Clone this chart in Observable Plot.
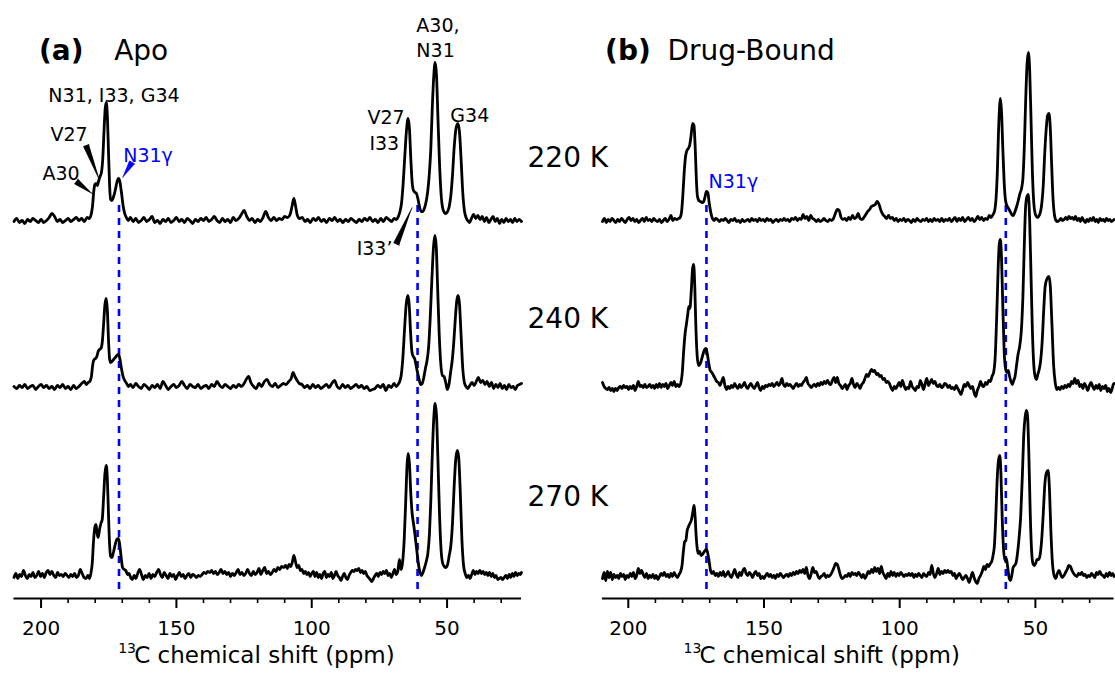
<!DOCTYPE html>
<html><head><meta charset="utf-8">
<script src="https://cdn.jsdelivr.net/npm/d3@7"></script>
<script src="https://cdn.jsdelivr.net/npm/@observablehq/plot@0.6"></script>
<style>
body{margin:0;background:#fff;}
#wrap{position:relative;width:1115px;height:673px;overflow:hidden;background:#fff;}
#wrap svg{position:absolute;top:0;}
</style></head><body><div id="wrap"></div>
<script>
// ---------- data: [ppm, intensity] ----------
const temperatures = ["220 K", "240 K", "270 K"];
const majorTicks = [200, 150, 100, 50];
const minorTicks = [190, 180, 170, 160, 140, 130, 120, 110, 90, 80, 70, 60, 40, 30];
const refShifts = [171.2, 60.9];
const axisTitleSup = "13";
const axisTitleMain = "C chemical shift (ppm)";

const apo220 = [[210,-1],[209,2],[208,-2],[207,0],[206,-3],[205,1],[204,-1],[203,2],[202,0],[201,-2],[200,1],[199,-2],[198,0],[197,3],[196,7],[195,4],[194,-1],[193,1],[192,-2],[191,0],[190,2],[189,-1],[188,1],[187,3],[186,0],[185,2],[184,-1],[183,3],[182.2,2],[181.5,6],[181.0,14],[180.5,30],[180.1,36],[179.7,37],[179.2,35],[178.7,40],[178.2,44],[177.7,48],[177.2,62],[176.7,92],[176.3,112],[175.9,118],[175.5,104],[175.1,70],[174.7,36],[174.3,21],[173.8,20],[173.2,24],[172.6,30],[172.0,38],[171.4,42],[170.9,39],[170.3,28],[169.7,15],[169.1,7],[168.5,3],[167.8,0],[167,3],[166,-1],[165,2],[164,-2],[163,0],[162,3],[161,-1],[160,1],[159,4],[158,-2],[157,0],[156,-3],[155,1],[154,-1],[153,2],[152,-2],[151,0],[150,3],[149,-1],[148,1],[147,-2],[146,2],[145,0],[144,-3],[143,1],[142,-1],[141,2],[140,0],[139,3],[138,-1],[137,1],[136,4],[135,0],[134,-2],[133,2],[132,-1],[131,1],[130,-2],[129,3],[128,0],[127,2],[126,6],[125,10],[124,4],[123,0],[122,2],[121,-2],[120,1],[119,-1],[118,3],[117,9],[116,3],[115,0],[114,3],[113,0],[112,2],[111,1],[110,4],[109,3],[108,6],[107.3,14],[106.6,22],[106,15],[105.3,5],[104.5,2],[103.5,3],[102.5,-1],[101.5,1],[100.5,-2],[99.5,2],[98.5,0],[97.5,3],[96.5,-1],[95.5,1],[94.5,-2],[93.5,2],[92.5,0],[91.5,3],[90.5,-1],[89.5,1],[88.5,-2],[87.5,1],[86.5,-1],[85.5,2],[84.5,0],[83.5,-2],[82.5,1],[81.5,-1],[80.5,2],[79.5,0],[78.5,3],[77.5,-1],[76.5,1],[75.5,-2],[74.5,2],[73.5,-1],[72.5,3],[71.5,1],[70.5,-1],[69.5,2],[68.7,1],[68.0,4],[67.4,9],[66.8,18],[66.2,38],[65.6,65],[65.0,90],[64.4,102],[63.9,92],[63.4,62],[62.9,38],[62.4,30],[61.8,28],[61.3,27],[60.8,22],[60.2,14],[59.6,9],[59.0,9],[58.4,12],[57.8,18],[57.2,28],[56.6,45],[56.0,72],[55.5,110],[54.9,145],[54.4,158],[53.9,145],[53.4,105],[52.8,58],[52.2,26],[51.6,12],[51.0,8],[50.4,7],[49.8,9],[49.2,14],[48.6,25],[48.0,45],[47.4,72],[46.7,92],[46.0,97],[45.4,88],[44.8,60],[44.2,28],[43.6,10],[43.0,3],[42.4,0],[41.7,-2],[41,2],[40.2,6],[39.4,2],[38.6,5],[37.8,1],[37,4],[36.2,-1],[35.4,3],[34.6,-2],[33.8,1],[33,4],[32.2,-1],[31.4,2],[30.6,-3],[29.8,1],[29,-2],[28.2,2],[27.4,-1],[26.6,1],[25.8,-2],[25,2],[24.2,-1],[23.4,1],[22.5,-1]];

const apo240 = [[210,0],[209,-2],[208,1],[207,-1],[206,2],[205,-2],[204,0],[203,1],[202,-3],[201,0],[200,2],[199,-1],[198,1],[197,-2],[196,0],[195,-3],[194,1],[193,-1],[192,2],[191,-2],[190,0],[189,-3],[188,1],[187,-2],[186,0],[185,3],[184,5],[183.3,2],[182.6,4],[182.0,5],[181.4,10],[180.9,22],[180.4,27],[179.9,28],[179.4,30],[178.9,35],[178.4,37],[177.9,38],[177.4,44],[176.9,62],[176.4,82],[175.9,88],[175.5,76],[175.1,48],[174.7,28],[174.3,24],[173.8,25],[173.2,27],[172.6,29],[172.0,31],[171.4,32],[170.9,28],[170.3,18],[169.7,10],[169.1,6],[168.4,3],[167.7,0],[167,2],[166,-1],[165,3],[164,0],[163,-2],[162,2],[161,0],[160,-3],[159,1],[158,-1],[157,2],[156,-2],[155,5],[154,1],[153,-3],[152,0],[151,2],[150,-1],[149,1],[148,5],[147,1],[146,-2],[145,2],[144,0],[143,-1],[142,2],[141,-2],[140,0],[139,1],[138,-2],[137,2],[136,0],[135,5],[134,1],[133,-1],[132,2],[131,0],[130,-2],[129,1],[128,-1],[127,2],[126,0],[125,3],[124,8],[123.3,10],[122.5,4],[121.5,0],[120.5,-2],[119.5,3],[118.5,0],[117.5,5],[116.5,7],[115.5,2],[114.5,0],[113.5,3],[112.5,-1],[111.5,1],[110.5,3],[109.5,2],[108.5,5],[107.6,8],[106.9,14],[106.2,10],[105.4,6],[104.6,3],[103.6,2],[102.6,-1],[101.6,1],[100.6,-2],[99.6,2],[98.6,-1],[97.6,1],[96.6,-2],[95.6,0],[94.6,2],[93.6,-1],[92.6,3],[91.6,6],[90.6,0],[89.6,-2],[88.6,2],[87.6,-1],[86.6,1],[85.6,-2],[84.6,0],[83.6,2],[82.6,-1],[81.6,1],[80.6,-2],[79.6,0],[78.6,-4],[77.6,-3],[76.6,-2],[75.6,1],[74.6,-1],[73.6,2],[72.6,-4],[71.6,1],[70.6,-1],[69.6,3],[68.8,0],[68.1,2],[67.5,5],[66.9,12],[66.3,30],[65.7,58],[65.1,82],[64.5,91],[64.0,82],[63.5,55],[63.0,35],[62.5,30],[62.0,28],[61.5,22],[61.0,15],[60.4,8],[59.8,2],[59.2,3],[58.6,9],[58.0,18],[57.4,26],[56.8,40],[56.2,70],[55.6,108],[55.0,140],[54.5,151],[54.0,140],[53.5,100],[52.9,52],[52.3,22],[51.7,11],[51.1,10],[50.5,4],[49.9,-3],[49.3,2],[48.7,14],[48.1,26],[47.5,45],[46.9,70],[46.4,86],[45.9,91],[45.4,82],[44.8,50],[44.2,18],[43.6,4],[43.0,0],[42.3,-2],[41.6,1],[40.8,4],[40,1],[39.2,5],[38.4,9],[37.6,4],[36.8,6],[36,2],[35.2,5],[34.4,0],[33.6,4],[32.8,-2],[32,2],[31.2,-1],[30.4,3],[29.6,-2],[28.8,1],[28,-3],[27.2,2],[26.4,-1],[25.6,0],[24.8,-3],[24,1],[23.2,2],[22.5,3]];

const apo270 = [[210,-2],[209.3,2],[208.6,-3],[207.9,1],[207.2,-1],[206.5,5],[205.8,0],[205.1,-3],[204.4,1],[203.7,-1],[203,3],[202.3,-2],[201.6,0],[200.9,4],[200.2,-1],[199.5,2],[198.8,-2],[198.1,3],[197.4,5],[196.7,1],[196,4],[195.3,0],[194.6,-2],[193.9,3],[193.2,0],[192.5,1],[191.8,-1],[191.1,2],[190.4,0],[189.7,-2],[189,1],[188.3,-1],[187.6,2],[186.9,-2],[186.2,0],[185.5,6],[184.8,2],[184.1,-2],[183.4,-3],[182.7,0],[182.1,-3],[181.6,2],[181.1,12],[180.6,35],[180.1,49],[179.7,51],[179.3,42],[178.9,38],[178.4,46],[177.9,52],[177.4,56],[176.9,78],[176.4,102],[175.9,110],[175.5,96],[175.1,62],[174.7,32],[174.3,19],[173.8,18],[173.2,24],[172.6,31],[172.0,36],[171.4,37],[170.9,30],[170.4,18],[169.9,8],[169.3,6],[168.7,5],[168.1,1],[167.5,2],[166.9,-2],[166.3,-4],[165.6,0],[165,-3],[164.3,2],[163.6,6],[162.9,1],[162.2,-4],[161.5,0],[160.8,-2],[160.1,2],[159.4,-3],[158.7,1],[158,-1],[157.3,3],[156.6,6],[155.9,1],[155.2,-2],[154.5,3],[153.8,0],[153.1,-3],[152.4,2],[151.7,-1],[151,1],[150.3,-4],[149.6,0],[148.9,3],[148.2,-1],[147.5,1],[146.8,-3],[146.1,0],[145.4,2],[144.7,-2],[144,1],[143.3,0],[142.6,-2],[141.9,0],[141.2,-1],[140.5,1],[139.8,3],[139.1,2],[138.4,4],[137.7,3],[137,5],[136.3,2],[135.6,4],[134.9,1],[134.2,3],[133.5,6],[132.8,2],[132.1,4],[131.4,1],[130.7,3],[130,-1],[129.3,2],[128.6,0],[127.9,3],[127.2,6],[126.5,1],[125.8,3],[125.1,0],[124.4,2],[123.7,6],[123,2],[122.3,0],[121.6,4],[120.9,1],[120.2,3],[119.5,7],[118.8,1],[118.1,5],[117.4,8],[116.7,2],[116,4],[115.3,1],[114.6,3],[113.9,6],[113.2,4],[112.5,8],[111.8,6],[111.1,9],[110.4,8],[109.7,10],[109,7],[108.4,11],[107.8,9],[107.2,13],[106.6,20],[106,14],[105.4,8],[104.8,10],[104.2,5],[103.6,6],[103,2],[102.4,4],[101.8,1],[101.2,3],[100.6,-1],[100,2],[99.4,4],[98.8,-1],[98.2,3],[97.6,-2],[97,1],[96.4,-3],[95.8,2],[95.2,4],[94.6,-2],[94,1],[93.4,-1],[92.8,3],[92.2,-3],[91.6,0],[91,4],[90.4,0],[89.8,-2],[89.2,-5],[88.6,-1],[88,2],[87.4,-2],[86.8,-4],[86.2,0],[85.6,3],[85,5],[84.4,4],[83.8,6],[83.2,5],[82.6,7],[82,3],[81.4,5],[80.8,2],[80.2,4],[79.6,0],[79,-2],[78.4,-4],[77.8,-6],[77.2,-3],[76.6,0],[76,2],[75.4,-1],[74.8,3],[74.2,1],[73.6,4],[73,2],[72.4,5],[71.8,0],[71.2,2],[70.6,-2],[70,2],[69.4,6],[68.8,1],[68.2,4],[67.6,16],[67.0,6],[66.4,14],[65.8,38],[65.2,80],[64.8,110],[64.4,122],[63.9,112],[63.4,82],[62.9,62],[62.4,52],[61.9,42],[61.3,28],[60.7,14],[60.1,4],[59.5,0],[58.9,3],[58.3,8],[57.7,14],[57.1,22],[56.5,42],[56.0,75],[55.5,118],[54.9,158],[54.4,172],[53.9,160],[53.4,118],[52.8,62],[52.2,25],[51.6,12],[51.0,9],[50.4,8],[49.8,11],[49.2,20],[48.6,30],[48.0,52],[47.4,88],[46.8,116],[46.2,125],[45.7,118],[45.1,82],[44.5,35],[43.9,10],[43.3,2],[42.7,-2],[42.1,0],[41.5,-3],[40.9,1],[40.3,5],[39.7,1],[39.1,4],[38.5,2],[37.9,5],[37.3,2],[36.7,4],[36.1,1],[35.5,3],[34.9,0],[34.3,3],[33.7,-1],[33.1,2],[32.5,-2],[31.9,0],[31.3,-4],[30.7,-3],[30.1,-2],[29.5,-4],[28.9,-2],[28.3,0],[27.7,-3],[27.1,1],[26.5,-2],[25.9,2],[25.3,-1],[24.7,3],[24.1,0],[23.5,2],[22.9,1],[22.5,3]];

const drug220 = [[209.5,-1],[208.8,2],[208.1,-2],[207.4,1],[206.7,-1],[206,2],[205.3,0],[204.6,-2],[203.9,1],[203.2,-1],[202.5,2],[201.8,0],[201.1,-2],[200.4,1],[199.7,3],[199,0],[198.3,2],[197.6,-1],[196.9,1],[196.2,-2],[195.5,0],[194.8,2],[194.1,-1],[193.4,3],[192.7,0],[192,1],[191.3,-1],[190.6,2],[189.9,0],[189.2,-1],[188.5,1],[187.8,-2],[187.1,0],[186.4,2],[185.7,-1],[185,1],[184.3,5],[183.6,0],[182.9,2],[182.2,1],[181.5,2],[180.9,3],[180.4,8],[179.9,25],[179.4,48],[178.9,64],[178.4,70],[177.9,72],[177.4,75],[176.9,84],[176.3,97],[175.8,95],[175.3,70],[174.9,40],[174.5,24],[174.0,20],[173.4,19],[172.8,18],[172.2,19],[171.7,24],[171.2,29],[170.7,28],[170.2,18],[169.6,8],[169.0,2],[168.4,0],[167.8,2],[167.1,1],[166.4,-1],[165.7,1],[165,0],[164.3,2],[163.6,0],[162.9,-2],[162.2,1],[161.5,0],[160.8,2],[160.1,-1],[159.4,0],[158.7,-2],[158,1],[157.3,-1],[156.6,0],[155.9,1],[155.2,-1],[154.5,2],[153.8,0],[153.1,1],[152.4,-1],[151.7,2],[151,0],[150.3,1],[149.6,-1],[148.9,2],[148.2,0],[147.5,1],[146.8,-2],[146.1,0],[145.4,1],[144.7,-1],[144,1],[143.3,0],[142.6,2],[141.9,0],[141.2,1],[140.5,-1],[139.8,2],[139.1,1],[138.4,3],[137.7,0],[137,2],[136.3,1],[135.6,6],[134.9,2],[134.2,4],[133.5,0],[132.8,5],[132.1,2],[131.4,1],[130.7,-1],[130,1],[129.3,-1],[128.6,0],[127.9,2],[127.2,0],[126.5,-1],[125.8,1],[125.1,0],[124.4,2],[123.7,7],[123,11],[122.3,10],[121.6,3],[120.9,1],[120.2,2],[119.5,0],[118.8,3],[118.1,1],[117.4,5],[116.7,2],[116,3],[115.3,7],[114.6,2],[113.9,1],[113.2,3],[112.5,6],[111.8,9],[111.1,11],[110.4,14],[109.7,15],[109,16],[108.3,19],[107.6,16],[106.9,10],[106.2,6],[105.5,4],[104.8,2],[104.1,5],[103.4,2],[102.7,3],[102,0],[101.3,2],[100.6,-1],[99.9,1],[99.2,0],[98.5,2],[97.8,-1],[97.1,1],[96.4,0],[95.7,-2],[95,1],[94.3,-1],[93.6,2],[92.9,0],[92.2,-1],[91.5,1],[90.8,0],[90.1,2],[89.4,-1],[88.7,1],[88,-1],[87.3,2],[86.6,0],[85.9,1],[85.2,-1],[84.5,2],[83.8,-1],[83.1,1],[82.4,0],[81.7,2],[81,-1],[80.3,1],[79.6,3],[78.9,-1],[78.2,2],[77.5,0],[76.8,3],[76.1,-1],[75.4,1],[74.7,3],[74,0],[73.3,2],[72.6,-1],[71.9,1],[71.2,4],[70.5,1],[69.8,3],[69.1,0],[68.4,2],[67.7,1],[67,5],[66.3,3],[65.6,6],[65.0,10],[64.5,22],[64.0,50],[63.6,88],[63.2,114],[62.9,122],[62.5,110],[62.0,72],[61.5,38],[61.0,20],[60.5,15],[59.9,12],[59.3,9],[58.7,6],[58.1,5],[57.5,9],[56.9,14],[56.3,20],[55.7,27],[55.1,32],[54.6,42],[54.1,72],[53.6,118],[53.1,155],[52.6,168],[52.1,150],[51.6,100],[51.1,48],[50.6,18],[50.1,7],[49.6,4],[49.1,3],[48.6,5],[48.1,9],[47.6,18],[47.1,35],[46.6,65],[46.0,92],[45.5,105],[45.0,107],[44.5,92],[44.0,55],[43.5,22],[43.0,6],[42.4,0],[41.8,-1],[41.2,0],[40.6,2],[40,0],[39.4,1],[38.8,3],[38.2,1],[37.6,4],[37,2],[36.4,3],[35.8,1],[35.2,4],[34.6,0],[34,2],[33.4,-1],[32.8,3],[32.2,0],[31.6,-2],[31,1],[30.4,-1],[29.8,2],[29.2,0],[28.6,3],[28,-1],[27.4,1],[26.8,-2],[26.2,2],[25.6,0],[25,1],[24.4,-1],[23.8,2],[23.2,0],[22.6,1],[22,-1],[21,1]];

const drug240 = [[209.5,4],[208.9,0],[208.3,-2],[207.7,-3],[207.1,-1],[206.5,-4],[205.9,-2],[205.3,-5],[204.7,-2],[204.1,-4],[203.5,-1],[202.9,0],[202.3,-2],[201.7,1],[201.1,-1],[200.5,0],[199.9,-3],[199.3,0],[198.7,-2],[198.1,1],[197.5,-4],[196.9,0],[196.3,5],[195.7,0],[195.1,1],[194.5,-1],[193.9,2],[193.3,-1],[192.7,0],[192.1,2],[191.5,-1],[190.9,1],[190.3,-2],[189.7,2],[189.1,-1],[188.5,3],[187.9,-1],[187.3,2],[186.7,0],[186.1,3],[185.5,-2],[184.9,1],[184.3,4],[183.7,1],[183.1,5],[182.5,0],[181.9,2],[181.3,0],[180.6,4],[180.1,14],[179.6,35],[179.1,52],[178.6,62],[178.1,72],[177.7,80],[177.3,78],[176.8,95],[176.3,118],[175.9,122],[175.5,100],[175.1,60],[174.6,30],[174.1,21],[173.6,22],[173.0,27],[172.4,33],[171.9,37],[171.4,38],[170.9,33],[170.4,24],[169.8,16],[169.2,14],[168.6,11],[168.0,8],[167.4,5],[166.8,4],[166.2,1],[165.6,5],[165,9],[164.4,1],[163.8,-3],[163.2,0],[162.6,-2],[162,1],[161.4,-1],[160.8,3],[160.2,0],[159.6,-2],[159,2],[158.4,-1],[157.8,1],[157.2,4],[156.6,0],[156,-2],[155.4,1],[154.8,3],[154.2,0],[153.6,-2],[153,1],[152.4,4],[151.8,-1],[151.2,-4],[150.6,0],[150,-2],[149.4,1],[148.8,0],[148.2,2],[147.6,1],[147,3],[146.4,0],[145.8,2],[145.2,4],[144.6,1],[144,3],[143.4,8],[142.8,2],[142.2,0],[141.6,3],[141,1],[140.4,2],[139.8,0],[139.2,-2],[138.6,1],[138,3],[137.4,0],[136.8,2],[136.2,1],[135.6,4],[135,6],[134.4,9],[133.8,3],[133.2,1],[132.6,-1],[132,1],[131.4,2],[130.8,0],[130.2,3],[129.6,1],[129,4],[128.4,2],[127.8,5],[127.2,3],[126.6,6],[126,3],[125.4,2],[124.8,6],[124.2,9],[123.6,4],[123,9],[122.4,3],[121.8,1],[121.2,-2],[120.6,0],[120,2],[119.4,-3],[118.8,1],[118.2,3],[117.6,8],[117,2],[116.4,-1],[115.8,3],[115.2,1],[114.6,-2],[114,2],[113.4,4],[112.8,8],[112.2,12],[111.6,10],[111,14],[110.4,17],[109.8,15],[109.2,16],[108.6,12],[108,13],[107.4,10],[106.8,11],[106.2,7],[105.6,8],[105,4],[104.4,5],[103.8,3],[103.2,-1],[102.6,-4],[102,0],[101.4,-2],[100.8,1],[100.2,4],[99.6,0],[99,6],[98.4,1],[97.8,-3],[97.2,-1],[96.6,-2],[96,5],[95.4,0],[94.8,-2],[94.2,-4],[93.6,0],[93,-1],[92.4,6],[91.8,2],[91.2,-3],[90.6,3],[90,8],[89.4,1],[88.8,4],[88.2,7],[87.6,3],[87,5],[86.4,1],[85.8,0],[85.2,2],[84.6,-1],[84,0],[83.4,3],[82.8,2],[82.2,-1],[81.6,1],[81,-2],[80.4,-1],[79.8,-3],[79.2,1],[78.6,-2],[78,-5],[77.4,-8],[76.8,-3],[76.2,2],[75.6,0],[75,4],[74.4,1],[73.8,-2],[73.2,0],[72.6,-6],[72,-10],[71.4,-4],[70.8,0],[70.2,5],[69.6,1],[69,0],[68.4,4],[67.8,2],[67.2,6],[66.6,5],[66.0,10],[65.4,14],[64.8,30],[64.2,75],[63.7,120],[63.3,143],[62.9,147],[62.5,130],[62.0,80],[61.5,35],[61.0,18],[60.5,14],[60.0,16],[59.5,10],[59.0,5],[58.5,2],[58.0,6],[57.5,10],[57.0,20],[56.4,32],[55.8,40],[55.2,55],[54.6,90],[54.1,140],[53.6,180],[53.1,190],[52.6,192],[52.1,165],[51.6,110],[51.1,55],[50.6,22],[50.1,10],[49.6,7],[49.1,12],[48.6,17],[48.1,25],[47.5,45],[46.9,78],[46.4,100],[45.7,108],[45.0,110],[44.5,100],[43.9,62],[43.3,22],[42.7,4],[42.1,-3],[41.5,-1],[40.9,-3],[40.3,0],[39.7,-2],[39.1,1],[38.5,-1],[37.9,2],[37.3,0],[36.7,5],[36.1,3],[35.5,8],[34.9,3],[34.3,6],[33.7,0],[33.1,2],[32.5,-2],[31.9,3],[31.3,0],[30.7,-4],[30.1,1],[29.5,4],[28.9,0],[28.3,-3],[27.7,1],[27.1,-2],[26.5,2],[25.9,-4],[25.3,0],[24.7,-2],[24.1,1],[23.5,-5],[22.9,-2],[22.3,-6],[21.7,-2],[21.3,2],[21,3]];

const drug270 = [[209.5,-3],[208.9,3],[208.3,-5],[207.7,4],[207.1,-2],[206.5,3],[205.9,-4],[205.3,1],[204.7,-2],[204.1,0],[203.5,-3],[202.9,2],[202.3,-1],[201.7,1],[201.1,-4],[200.5,0],[199.9,-2],[199.3,2],[198.7,-1],[198.1,3],[197.5,-3],[196.9,0],[196.3,7],[195.7,2],[195.1,5],[194.5,1],[193.9,-2],[193.3,2],[192.7,-3],[192.1,0],[191.5,-2],[190.9,1],[190.3,-3],[189.7,0],[189.1,-4],[188.5,-1],[187.9,2],[187.3,0],[186.7,3],[186.1,-1],[185.5,1],[184.9,-2],[184.3,2],[183.7,-1],[183.1,3],[182.5,0],[181.9,-2],[181.3,1],[180.7,4],[180.2,10],[179.7,24],[179.2,34],[178.8,35],[178.3,45],[177.8,49],[177.3,52],[176.8,55],[176.3,62],[175.8,70],[175.4,60],[175.0,40],[174.6,27],[174.2,22],[173.7,24],[173.2,20],[172.7,21],[172.2,23],[171.7,25],[171.2,26],[170.7,22],[170.2,14],[169.7,5],[169.2,2],[168.6,4],[168,0],[167.4,2],[166.8,-1],[166.2,3],[165.6,0],[165,4],[164.4,-1],[163.8,1],[163.2,4],[162.6,0],[162,-2],[161.4,2],[160.8,6],[160.2,1],[159.6,-2],[159,3],[158.4,0],[157.8,5],[157.2,7],[156.6,2],[156,0],[155.4,3],[154.8,1],[154.2,-2],[153.6,2],[153,4],[152.4,0],[151.8,2],[151.2,-3],[150.6,-1],[150,-3],[149.4,0],[148.8,2],[148.2,-1],[147.6,1],[147,-2],[146.4,0],[145.8,-3],[145.2,1],[144.6,-1],[144,2],[143.4,0],[142.8,-2],[142.2,0],[141.6,1],[141,-1],[140.4,2],[139.8,0],[139.2,3],[138.6,1],[138,4],[137.4,2],[136.8,5],[136.2,3],[135.6,6],[135,2],[134.4,8],[133.8,0],[133.2,-3],[132.6,2],[132,8],[131.4,3],[130.8,4],[130.2,0],[129.6,-3],[129,-1],[128.4,0],[127.8,2],[127.2,-2],[126.6,0],[126,-1],[125.4,1],[124.8,4],[124.2,8],[123.6,12],[123,11],[122.4,6],[121.8,0],[121.2,-3],[120.6,-2],[120,0],[119.4,-1],[118.8,2],[118.2,-1],[117.6,3],[117,1],[116.4,2],[115.8,0],[115.2,3],[114.6,1],[114,-2],[113.4,1],[112.8,-3],[112.2,0],[111.6,4],[111,2],[110.4,6],[109.8,3],[109.2,8],[108.6,4],[108,7],[107.4,2],[106.8,9],[106.2,3],[105.6,0],[105,-3],[104.4,2],[103.8,-1],[103.2,4],[102.6,0],[102,3],[101.4,-1],[100.8,2],[100.2,0],[99.6,3],[99,1],[98.4,-1],[97.8,1],[97.2,0],[96.6,2],[96,0],[95.4,2],[94.8,-2],[94.2,1],[93.6,-1],[93,2],[92.4,0],[91.8,-2],[91.2,2],[90.6,0],[90,-1],[89.4,3],[88.8,1],[88.2,10],[87.6,2],[87,-2],[86.4,2],[85.8,7],[85.2,1],[84.6,4],[84,2],[83.4,5],[82.8,3],[82.2,5],[81.6,3],[81,4],[80.4,0],[79.8,2],[79.2,-3],[78.6,0],[78,2],[77.4,-1],[76.8,-4],[76.2,-2],[75.6,0],[75,-3],[74.4,-7],[73.8,-2],[73.2,3],[72.6,-2],[72,-6],[71.4,-8],[70.8,-3],[70.2,0],[69.6,4],[69,9],[68.4,6],[67.8,11],[67.2,9],[66.6,12],[66.1,14],[65.6,20],[65.1,30],[64.6,58],[64.1,95],[63.6,115],[63.1,120],[62.7,102],[62.2,55],[61.7,25],[61.2,15],[60.7,17],[60.2,8],[59.7,-2],[59.2,-5],[58.7,0],[58.2,8],[57.7,10],[57.2,12],[56.6,22],[56.0,38],[55.4,60],[54.8,100],[54.3,140],[53.8,158],[53.3,165],[52.9,160],[52.4,120],[51.9,62],[51.4,25],[50.9,12],[50.4,10],[49.9,12],[49.4,16],[48.8,16],[48.3,20],[47.7,35],[47.1,62],[46.5,92],[45.9,103],[45.3,105],[44.8,85],[44.3,45],[43.7,12],[43.1,0],[42.5,-3],[41.9,2],[41.3,5],[40.7,1],[40.1,-2],[39.5,0],[38.9,3],[38.3,6],[37.7,10],[37.1,9],[36.5,5],[35.9,2],[35.3,0],[34.7,-1],[34.1,2],[33.5,1],[32.9,3],[32.3,0],[31.7,1],[31.1,-2],[30.5,0],[29.9,-1],[29.3,2],[28.7,0],[28.1,-2],[27.5,3],[26.9,1],[26.3,4],[25.7,1],[25.1,0],[24.5,-2],[23.9,2],[23.3,-1],[22.7,3],[22.1,0],[21.5,2],[21,-1]];

// labels & pointers (ppm, level)
const labelsA = [
  {text: "N31, I33, G34", ppm: 197.3, level: 497},
  {text: "V27", ppm: 196.55, level: 458},
  {text: "A30", ppm: 199.5, level: 419},
  {text: "A30,", ppm: 61.35, level: 567},
  {text: "N31", ppm: 61.35, level: 542},
  {text: "V27", ppm: 79.4, level: 475},
  {text: "I33", ppm: 78.7, level: 449},
  {text: "G34", ppm: 48.8, level: 477},
  {text: "I33’", ppm: 83.4, level: 344}
];
const gammaLabelA = {text: "N31γ", ppm: 169.65, level: 437};
const gammaLabelB = {text: "N31γ", ppm: 170.44, level: 411};
const pointersA = [
  {id: "V27", color: "black", pts: [[182.3,454],[184.3,452],[178.3,418]]},
  {id: "A30", color: "black", pts: [[186.3,419.4],[187.6,414.6],[181.1,405]]},
  {id: "N31g", color: "#0000ff", pts: [[165.4,434.4],[167.3,437.6],[169.8,421]]},
  {id: "I33p", color: "black", pts: [[67.68,353.3],[69.71,355.7],[62.91,390.7]]}
];

// ---------- layout (stacking of the three temperatures) ----------
const stackOffset = {"220 K": 378, "240 K": 212, "270 K": 23};
const tempLabelLevel = {"220 K": 432, "240 K": 271, "270 K": 93};
const FONT = "DejaVu Sans";

function rowsOf(spectra) {
  const out = [];
  temperatures.forEach((t, i) => spectra[i].forEach(([ppm, h]) => out.push({ppm, temp: t, v: stackOffset[t] + h})));
  return out;
}

function panel({spectra, domain, width, marginLeft, marginRight, tag, name, nameX, tagX, gamma, extraLabels, pointers, showTemps, supX, mainX}) {
  const marks = [
    Plot.ruleY([0], {stroke: "black", strokeWidth: 2}),
    Plot.ruleX(majorTicks, {x: d => d, y1: 0, y2: -10, stroke: "black", strokeWidth: 2}),
    Plot.ruleX(minorTicks, {x: d => d, y1: 0, y2: -5, stroke: "black", strokeWidth: 1.6}),
    Plot.text(majorTicks, {x: d => d, y: -36, text: d => String(d), fontSize: 20, fontFamily: FONT, lineAnchor: "bottom", fill: "black"}),
    Plot.text([axisTitleSup], {x: supX, y: -54, text: d => d, fontSize: 14, fontFamily: FONT, textAnchor: "start", lineAnchor: "bottom", fill: "black"}),
    Plot.text([axisTitleMain], {x: mainX, y: -64, text: d => d, fontSize: 23, fontFamily: FONT, textAnchor: "start", lineAnchor: "bottom", fill: "black"}),
    Plot.ruleX(refShifts, {x: d => d, y1: 393, y2: 8, stroke: "#0000ff", strokeWidth: 2.6, strokeDasharray: "7,6"}),
    Plot.line(rowsOf(spectra), {x: "ppm", y: "v", z: "temp", stroke: "black", strokeWidth: 2.8, curve: "monotone-x"}),
    Plot.text([tag], {x: tagX, y: 539, text: d => d, fontSize: 28, fontWeight: "bold", fontFamily: FONT, textAnchor: "start", lineAnchor: "bottom", fill: "black"}),
    Plot.text([name], {x: nameX, y: 539, text: d => d, fontSize: 28, fontFamily: FONT, textAnchor: "start", lineAnchor: "bottom", fill: "black"}),
    Plot.text([gamma], {x: "ppm", y: "level", text: "text", fontSize: 19, fontFamily: FONT, textAnchor: "start", lineAnchor: "bottom", fill: "#0000ff"})
  ];
  if (extraLabels) marks.push(Plot.text(extraLabels, {x: "ppm", y: "level", text: "text", fontSize: 19, fontFamily: FONT, textAnchor: "start", lineAnchor: "bottom", fill: "black"}));
  if (pointers) {
    pointers.forEach(p => marks.push(Plot.line(p.pts, {x: d => d[0], y: d => d[1], fill: p.color, stroke: p.color, strokeWidth: 0.8})));
  }
  if (showTemps) {
    marks.push(Plot.text(temperatures, {x: domain[1], y: d => tempLabelLevel[d], text: d => d, dx: 6, fontSize: 28, fontFamily: FONT, textAnchor: "start", lineAnchor: "bottom", fill: "black"}));
  }
  return Plot.plot({
    width, height: 673,
    marginLeft, marginRight, marginTop: 0, marginBottom: 0,
    x: {domain, axis: null},
    y: {domain: [-75, 598], axis: null},
    style: "background:none;overflow:visible;font-family:'DejaVu Sans';",
    marks
  });
}

const svgA = panel({
  spectra: [apo220, apo240, apo270], domain: [210, 22.5], width: 615, marginLeft: 13.5, marginRight: 94,
  tag: "(a)", name: "Apo", tagX: 200.75, nameX: 173, gamma: gammaLabelA, extraLabels: labelsA,
  pointers: pointersA, showTemps: true, supX: 171.5, mainX: 165.6
});
const svgB = panel({
  spectra: [drug220, drug240, drug270], domain: [209.5, 21], width: 555, marginLeft: 42, marginRight: 1.4,
  tag: "(b)", name: "Drug-Bound", tagX: 208.54, nameX: 185.55, gamma: gammaLabelB, extraLabels: null,
  pointers: null, showTemps: false, supX: 179.66, mainX: 173.8
});
svgA.style.left = "0px";
svgB.style.left = "560px";
const wrap = document.getElementById("wrap");
wrap.appendChild(svgA);
wrap.appendChild(svgB);
</script>
</body></html>
